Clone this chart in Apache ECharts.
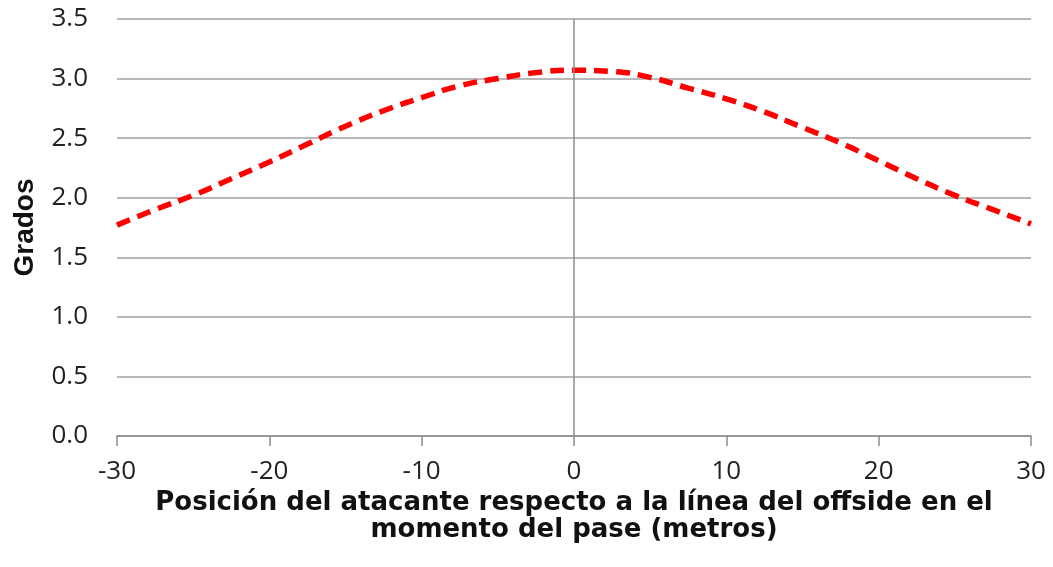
<!DOCTYPE html>
<html>
<head>
<meta charset="utf-8">
<script src="https://cdn.jsdelivr.net/npm/echarts@6/dist/echarts.min.js"></script>
<style>html,body{margin:0;padding:0;background:#fff;}#c{width:1053px;height:567px;}</style>
</head>
<body>
<div id="c"></div>
<script>
const positions = [-30,-27.5,-25,-22.5,-20,-17.5,-15,-12.5,-10,-7.5,-5,-2.5,0,2.5,5,7.5,10,12.5,15,17.5,20,22.5,25,27.5,30];
const grados = [1.77,1.90,2.02,2.16,2.30,2.45,2.60,2.73,2.84,2.94,3.00,3.05,3.07,3.06,3.01,2.92,2.83,2.72,2.59,2.46,2.31,2.16,2.02,1.90,1.78];
const xTitle = 'Posición del atacante respecto a la línea del offside en el\nmomento del pase (metros)';
const yTitle = 'Grados';

const chart = echarts.init(document.getElementById('c'));
chart.setOption({
  animation: false,
  grid: {left: 117, right: 22, top: 19, bottom: 131},
  xAxis: {
    type: 'value', min: -30, max: 30, interval: 10,
    name: xTitle, nameLocation: 'middle', nameGap: 37,
    nameTextStyle: {fontFamily: 'DejaVu Sans', fontWeight: 'bold', fontSize: 26, color: '#111', lineHeight: 27},
    axisLine: {onZero: false, lineStyle: {color: '#8c8c8c', width: 1.5}},
    axisTick: {show: true, length: 10, inside: false, lineStyle: {color: '#8c8c8c', width: 1.5}},
    axisLabel: {fontFamily: 'Open Sans', fontSize: 26, color: '#222', margin: 23},
    splitLine: {show: false}
  },
  yAxis: {
    type: 'value', min: 0, max: 3.5, interval: 0.5,
    name: yTitle, nameLocation: 'middle', nameGap: 78, nameRotate: 90,
    nameTextStyle: {fontFamily: 'Liberation Sans', fontWeight: 'bold', fontSize: 28, color: '#111'},
    axisLine: {show: false},
    axisTick: {show: false},
    axisLabel: {fontFamily: 'Open Sans', fontSize: 26, color: '#222', margin: 29, formatter: v => v.toFixed(1)},
    splitLine: {show: true, lineStyle: {color: '#a0a0a0', width: 1.5}}
  },
  series: [{
    type: 'line',
    data: positions.map((x, i) => [x, grados[i]]),
    smooth: true,
    symbol: 'none',
    lineStyle: {color: '#ff0000', width: 5.5, type: [14, 8], cap: 'butt'},
    markLine: {
      silent: true, symbol: 'none', label: {show: false},
      lineStyle: {color: '#8c8c8c', width: 1.5, type: 'solid'},
      data: [{xAxis: 0}]
    },
    z: 3
  }]
});
</script>
</body>
</html>
